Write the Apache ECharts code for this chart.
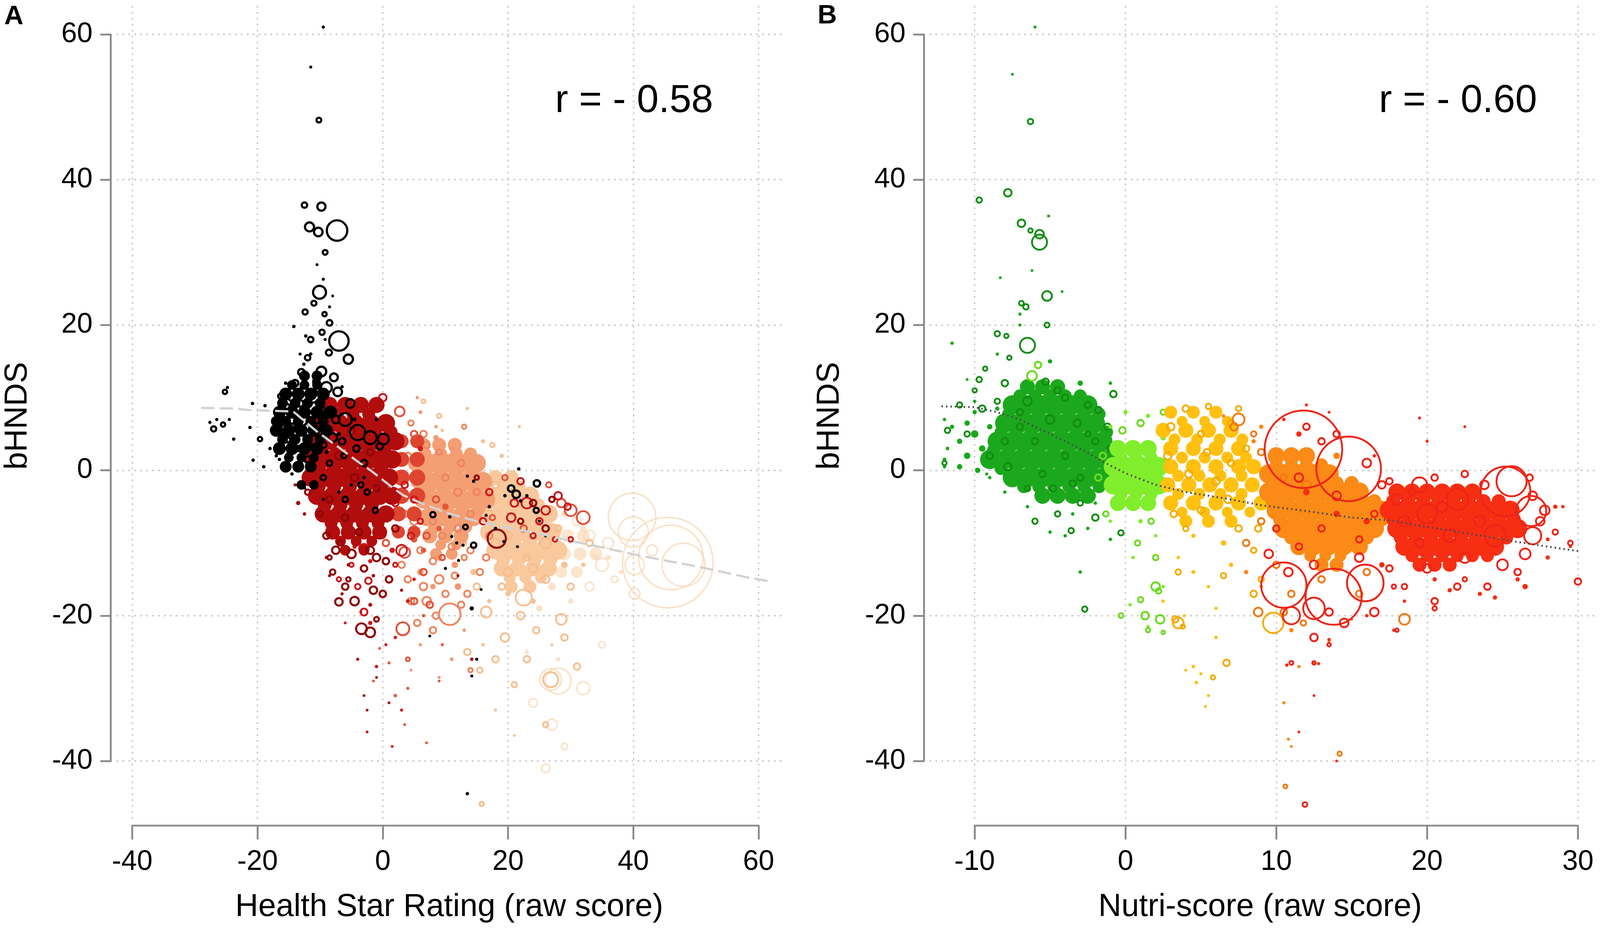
<!DOCTYPE html>
<html><head><meta charset="utf-8">
<script src="https://cdn.jsdelivr.net/npm/echarts@6/dist/echarts.min.js"></script>
<style>html,body{margin:0;padding:0;background:#fff;overflow:hidden}#c{width:100vw;height:100vh}</style>
</head><body><div id="c"></div>
<script>
// ================= DATA =================
const xTicksA = [-40, -20, 0, 20, 40, 60];
const xTicksB = [-10, 0, 10, 20, 30];
const yTicks = [-40, -20, 0, 20, 40, 60];
const xTitleA = 'Health Star Rating (raw score)';
const xTitleB = 'Nutri-score (raw score)';
const yTitle = 'bHNDS';
const rTextA = 'r = - 0.58';
const rTextB = 'r = - 0.60';

// ---- Panel A: individual points [x, y, bubble weight] ----
const aBlackRing = [[-10.2,48.2,2.2],[-12.5,36.5,2.5],[-9.8,36.3,3.8],[-11.7,33.5,4.2],[-10.3,32.8,4],[-7.3,33,9.5],[-9.2,30,2.2],
[-10.1,24.5,6],[-11,23,2.3],[-12.4,21.8,2.4],[-9.3,21.5,2],[-8.5,20.3,2.6],[-9.7,19,2.4],[-7,17.8,9],[-5.5,15.3,4.3],[-8.6,16.2,2.8],
[-9.8,13.6,4.5],[-10.6,12.2,3],[-7.8,12.8,3.6],[-11.2,10.2,6],[-9,11.4,5],[-7.2,10.8,4],[-13.2,9.2,3],[-14.6,10,2.8],[-15.3,8.8,2.4],
[-16.3,10.2,2.4],[-13.6,7,3],[-12,6,3.2],[-10,7.5,3],[-8.3,8,5],[-6,7,6],[-4,5.2,7],[-2,4.5,6],[0.1,4.3,5],[-0.5,3.3,3],[-4.2,3,3],
[-6.2,2,2.4],[-13.5,3,2.4],[-15.2,4.2,2.4],[-11,3.2,3],[-8,4.5,4],[-5.2,9.2,4],[-3,1,3],[-9.5,-1,2.5],[-2.5,-3,2.5],[-1.2,-5.5,2.5],
[-14,12,3],[-12.5,8,3.5],[-10.5,6,3.5],[-14.5,6,3],[-16,8,2.5],[-12,1.5,3],[-9.5,3.5,3],[-7.5,7,3.5],[-10,9,3.5],[-13,13.5,3],
[-11.5,18,2.5],[-15,2,2.5],[-6.5,4,3],[-8.5,1,2.5],[-12,15.5,2.5],[-16.5,6,2.2],[-3.5,-2,2.5],[-6,-4,2.5],
[-27,5.7,2.4],[-25.5,6.3,2],[-25.2,10.8,2],[-19.6,4.3,2],
[20.5,-2.5,3],[24.6,-1.8,3],[24.5,-5.5,2.4],[8,-6.1,2.5],[13.2,-7.8,2.2],[14.5,-10.3,2.5],[21.3,-3.3,3.5]];
const aBlackDot = [[-9.5,61,1.5],[-11.5,55.5,1.4],[-9.5,26.3,1.4],[-10.5,28.3,1.3],[-8.5,22.5,1.4],[-12.3,18.5,1.6],[-14.2,19.8,1.6],
[-11.5,16,1.6],[-12.6,14.6,1.6],[-13.2,16,1.4],[-9.2,18,1.4],[-8,24,1.3],[-16,5,1.7],[-17.5,7,1.7],[-26.5,7,1.5],[-27.6,6.6,1.5],
[-24.5,7,1.5],[-24.8,11.4,1.5],[-23.8,4.3,1.6],[-20.8,9.2,1.6],[-21.2,5.9,1.6],[-18.8,8.9,1.6],[-20.7,1.4,1.6],[-18,3,1.6],[-17,2,1.6],
[-16,0.5,1.6],[-14.5,-0.5,1.6],[-12.5,-2.4,1.6],[-16.5,1.5,1.6],[-19,0.5,1.6],[-15,2.5,1.6],[-13,1,1.7],[-11.5,0,1.7],[-14,5.5,1.7],
[-12.5,4,1.7],[-10.5,5,1.9],[-9,2.5,1.9],[-7,5,1.9],[-11,8,1.9],[-13,11.5,1.7],[-15.5,12,1.6],[-6.5,11.5,1.6],[-4.5,7,1.9],[-1,7,1.7],
[-3,-1,1.6],[-5,-2,1.6],[-7,-3,1.6],[-9.5,-4,1.5],
[21.7,0.2,1.6],[23,-3.5,1.6],[22,-4.2,1.6],[14.5,-1.5,1.6],[13.5,-0.8,1.5],[10.7,-6.4,1.6],[11,-9.1,1.5],[11.8,-10,1.5],[12.8,-10.3,1.5],
[10,-13.5,1.5],[12.1,-12.4,1.5],[14.2,-19,2],[15.7,-16.4,1.3],[7.5,-22.8,1.3],[13.5,-44.5,1.6],[26,-9,1.5],[25,-7,1.5],[17,-5,1.6],
[19.5,-3.5,1.6],[18,-8,1.6],[21.5,-10.5,1.4],[15,-26,1.4],[14.2,-28.3,1.4],[16.5,-6.2,1.4],[19.3,-9.8,1.4]];
// dense clusters, rows: [y, weight, x list]
const aBlackCoreRows = [[13,5,[-12.5,-10.5]],[11.75,4.5,[-14.5,-12.5,-10.5]],[10.5,6,[-15.5,-13.5,-11.5,-9.5]],[9.25,5,[-16,-14,-12,-10]],
[8,6,[-16.5,-14.5,-12.5,-10.5,-8.5]],[6.75,5,[-17,-15.5,-13.5,-11.5,-9.5]],[5.5,6,[-17,-15,-13,-11,-9]],[4.25,5,[-16,-14,-12,-10]],
[3,6,[-16.5,-14.5,-12.5,-10.5]],[1.75,4.5,[-15,-13,-11]],[0.5,5.5,[-15.5,-13.5,-11.5]],[-2,4.5,[-13,-11]]];
const aDarkRedCoreRows = [[9,7.5,[-8.5,-6,-3.5,-1]],[7.75,6,[-7.25,-4.75,-2.25]],[6.5,8.5,[-9.5,-7,-4.5,-2,0.5]],[5.25,6.5,[-8.75,-6.25,-3.75,-1.25,1.25]],
[4,8.5,[-10.5,-8,-5.5,-3,-0.5,2]],[2.75,6.5,[-9.75,-7.25,-4.75,-2.25,0.25]],[1.5,8.5,[-11,-8.5,-6,-3.5,-1,1.5]],[0.25,6.5,[-10.25,-7.75,-5.25,-2.75,-0.25]],
[-1,8.5,[-11.5,-9,-6.5,-4,-1.5,1]],[-2.25,6.5,[-10.25,-7.75,-5.25,-2.75,-0.25]],[-3.5,8.5,[-10.5,-8,-5.5,-3,-0.5,1.5]],[-4.75,6.5,[-9.25,-6.75,-4.25,-1.75]],
[-6,8,[-9.5,-7,-4.5,-2,0.5]],[-7.25,6,[-8.25,-5.75,-3.25,-0.75]],[-8.5,7,[-8,-5.5,-3,-0.5]],[-9.75,5,[-6.75,-4.25,-1.75]],[-11,5,[-6,-3]]];
const aDarkRedFill = [[-13.5,-4.5,2],[-12.5,-6,1.6],[-9,-12,1.6],[-5.5,-13,1.6],[-1.5,-14.5,1.6],[-4,-26,1.4],[-3,-31,1.3],[-2.5,-33,1.3],
[-1,-28.5,1.3],[1,-32,1.3],[14.2,-26,1.6],[12,-14.5,1.4],[-14,-2,1.5],[-6.5,-17,1.5],[-2,-18.5,1.8],[3,-16.5,1.5],[-8.5,-14.5,1.4]];
const aDarkRedRing = [[-7,-18.1,3.5],[-3.4,-21.8,5],[-2,-22.3,4.5],[18.2,-9.4,8.5],[-6.8,-10,2.5],[-5.5,-15,2],[-1,-20.5,2.2],[0,-17,3],
[-3.8,-8.5,3],[-10,-6,2.5],[-8.5,-12,2],[-12,-3,2.5],[-1,-12,3.5],[2,-8,3],[15,-1,2],[22,-7,2.5],[27,-4,2.5],[26,-8,3],[24,-4.5,3],
[-9,-9,3],[-7.5,-11,3.5],[-5,-11.5,4],[-2,-11,3.5],[0.5,-12.5,3],[-8,-14,2.5],[-6,-16,3],[-4.5,-18,4],[-1.5,-16.5,3.5],[1,-15,3],[-3,-13.5,3],
[-7,2,3.5],[-4.5,-1,3.5],[-2,2.5,3],[-8.5,-4,3],[-5,5.5,3],[-1,-2.5,3],[-6,-6.5,3]];
const aRedOrangeCoreRows = [[4,6.5,[3,5.5]],[1.5,7,[3,5.5]],[-1,7.5,[3,5.5]],[-3.5,7.5,[3,5.5]],[-6,7,[2.5,5]],[-8.5,6,[2.5,5]]];
const aRedFill = [[-1,-27,1.6],[-2,-21,2],[-3.5,-19.5,1.4],[-6,-21,1.3],[2,-23,1.6],[1.5,-38,1.3],[3,-33,1.4],[-2.5,-36,1.3],[0.5,-24,1.4],
[5,-15,1.6],[4,-18,1.8],[-2,-12.5,2],[-4.5,-10.5,2],[0,-9,3],[1.5,-11,2.5],[6,3,2.5],[3,4,2.5]];
const aRedRing = [[0,10,3.5],[-3,-10.8,4.5],[-2.3,-15.2,3],[-5,-13,2],[-7,-15,2],[2,-13,2],[-4,-16,2.5],[-3,-19.5,3.2],[3,-11,5],[4.5,-9,3],
[1,-6,3],[5,-4,3],[6,-7,2.5],[-8,-8,2.5],[-9,-5,2.5],[20.5,-6.5,4],[23,-4.5,5],[26,-5.5,4],[28,-3.5,3.5],[29.5,-5,3],[25,-7,3],[22,-1.5,3],
[24,-9,2.5],[27.5,-9.5,2.2],[21,-4.5,3.5],[30,-9.5,2.2],[17,-3,3],[16,-7,3],[1.5,1,3],[3.5,-2,3],[2,-4.5,3]];
const aOrangeFill = [[9,-8,2.5],[5,-9.5,3],[6.5,-11,2.5],[10,-5,3],
[2,-31,1.6],[4,-30,1.4],[1,-26.5,1.4],[6.5,-20,1.6],[9,-29,1.3],[9.5,-24,1.4],[-0.5,-24.5,1.3],[3.5,-35,1.3],[7,-37.5,1.3],[-1.5,-29,1.3]];
const aOrangeRing = [[2.7,8.1,4.5],[0.5,-10,3],[3.2,-21.8,6],[3.5,-11.3,5],[7,-9,3],[8.5,-4,3],[6.5,-14,3],[5,-18,3],[7.5,-18.5,3],[9.5,-12,2.5],
[1,6,3],[5,5,3],[4,-26,1.8],[17.5,-6.5,2.5],[19.5,-1,2.5],[30,-5.5,5.5],[32,-6.5,6],[28.5,-4.5,4],[22.5,-8,3],[26.5,-2,2.5]];
const aSalmonCoreRows = [[3.5,6.5,[6.5,9,11.5]],[2.25,6,[6.75,9.25,11.75,14]],[1,8.5,[5.5,8,10.5,13,15]],[-0.25,6.5,[6.75,9.25,11.75,14.25]],
[-1.5,8.5,[6,8.5,11,13.5,16]],[-2.75,6.5,[7.25,9.75,12.25,14.75]],[-4,8.5,[6.5,9,11.5,14,16.5]],[-5.25,6.5,[7.75,10.25,12.75,15.25]],
[-6.5,8,[7,9.5,12,14.5]],[-7.75,6,[8.25,10.75,13.25]],[-9,7,[7.5,10,12.5]],[-10.25,5,[9.25,11.75]],[-11.5,5.5,[8.5,11]]];
const aSalmonFill = [[9,-12,3],[11.5,-13,3],[6,-14,3],[8,-16,2.5],[12,-16,3],[5.5,4,3],[8.5,4.5,2.5],[11,3,2.5],[6,8,1.8],[8.5,6,1.6],
[5.5,10,1.5],[11,-26,1.7],[9,-28.5,1.4],[13,-22,1.6],[6,-24,1.5],[4.5,-27.5,1.3]];
const aSalmonRing = [[10.7,-19.8,10],[5.5,-21,3],[7,-18,4],[4,-15,3],[9,-15,4],[11,-10.5,3],[13,-12,2.5],[6,-11,3],[8,-7,3],[14,-6,3],[12.5,1,3],
[10,-17,3],[8.5,-20,3],[6.5,5,3],[9,2.5,2.5],[4.5,6.5,2.5],[13,6,2],[14,-27.5,2],[16.5,-12,3],[3.5,-6,3],[13.5,-17,3],
[4,2,3],[7,3.5,3],[10,-1,3],[12,-3,3.5],[5,-7,3.5],[9.5,-9,3],[12,-8,3],[15,-3,3],[3,-13,3],[6.5,-16,3.5],[8,-12.5,3],[11.5,-14.5,3],
[4.5,-18,3],[8,-22,3],[12.5,-18.5,3],[14,-11,3],[17,-9,3],[15.5,-14,3]];
const aPeachCoreRows = [[-1,7,[15.5,18,20.5]],[-2.25,6,[16.75,19.25,21.75]],[-3.5,8.5,[16,18.5,21,23.5]],[-4.75,6.5,[17.25,19.75,22.25,24.75]],
[-6,8.5,[16.5,19,21.5,24,26.5]],[-7.25,6.5,[17.75,20.25,22.75,25.25]],[-8.5,8.5,[17,19.5,22,24.5,27]],[-9.75,6.5,[18.5,21,23.5,26]],
[-11,8.5,[18,20.5,23,25.5,28]],[-12.25,6.5,[19.25,21.75,24.25,26.75]],[-13.5,7.5,[19,21.5,24,26.5]],[-14.75,5.5,[20.25,22.75,25.25]],[-16,6,[20.5,23.5]]];
const aPeachFill = [[14,-1,3.5],[13,-10,3],[20,-17,2.5],[24,-18,2.5],[29,-13,3],[17,-18,2],[14.5,-14,3],[12,-4,3],[16,4,2],[19,2,2],[21.8,6,1.4],
[13.5,8.5,1.6],[9.5,5.5,1.6],[16,-24,1.6],[18,-33,1.4],[21,-36.5,1.3],[27,-24,1.4],[32,-13,2]];
const aPeachRing = [[26.8,-28.8,7],[22.5,-17.5,7.5],[28.5,-20.5,5],[19.5,-23,4],[16.5,-19.5,5],[20,-14,4],[15,-16,3],[26,-10,5],[24,-13.5,4],[30,-16,3],
[24.5,-22,3],[13.5,-25,3],[15.5,-27.5,2.5],[21,-29.5,2.5],[26,-35,2.5],[18,-10,4],[14,2.5,2],[9,7.5,2],[6.5,9.5,1.8],[17.5,3.5,2],[33,-10,3],[15.8,-45.9,2],
[18,-2,3],[22,-4,3.5],[25,-6,3],[28,-8,3],[17,-6,3.5],[20,-9,3.5],[23,-12,3],[26,-15,3.5],[19,-16,3],[22,-20,3.5],[18,-26,3],[23,-26,3],[29,-23,3],[31,-27,3]];
const aPaleCoreRows = [[-9,6,[29.5,32]],[-11.5,6,[29,31.5,34]],[-14,5.5,[28.5,31]]];
const aPaleFill = [[34,-12,3],[27,-16,3.5],[32,-8,3],[36,-12,2.5],[25,-19,3],[29,-6,3],[38,-14,2],[30,-18,2.5],[23,-25,2],[28,-26,2]];
const aPaleRing = [[39.8,-6.4,22],[40,-8.5,14],[40.2,-13,9],[40.2,-17,5],[45.5,-12.7,42],[46,-12,30],[48,-13,20],[35,-13,6],[36,-10,5],[31,-7,4],
[33,-9,5],[26.8,-28.8,10],[28,-29,12],[32,-30,6],[26,-41,4],[29,-38,3],[24,-32,4],[33,-16,4],[43,-11,5],[37,-15,3],[27,-35,5],[35,-24,3]];
const aTrend = [[-29,8.6],[-23.5,8.5],[-21.5,8.3],[-18,8.2],[-14.3,8.1],[-10.6,5.4],[-7.1,3.2],[-4,1.2],[-1.8,-0.1],[1,-2],[3.2,-3.4],[6.1,-4.5],
[10,-5.8],[15,-7],[20,-7.9],[25.4,-8.8],[30,-9.7],[35,-10.6],[40.3,-11.6],[45,-12.4],[50,-13.2],[53.8,-13.9],[58,-14.7],[62,-15.3]];

// ---- Panel B ----
const bGreenCoreRows = [[11.5,7,[-6.5,-5.5,-4.5]],[10.25,6,[-7,-6,-5,-4,-3]],[9,9,[-7.5,-6.5,-5.5,-4.5,-3.5,-2.5]],
[7.75,6,[-7.75,-6.75,-5.75,-4.75,-3.75,-2.75,-1.75]],[6.5,9,[-8,-7,-6,-5,-4,-3,-2]],[5.25,6,[-8.25,-7.25,-6.25,-5.25,-4.25,-3.25,-2.25,-1.25]],
[4,9,[-8.5,-7.5,-6.5,-5.5,-4.5,-3.5,-2.5,-1.5]],[2.75,6,[-8.75,-7.75,-6.75,-5.75,-4.75,-3.75,-2.75,-1.75,-0.75]],
[1.5,9,[-9,-8,-7,-6,-5,-4,-3,-2,-1]],[0.25,6,[-8.25,-7.25,-6.25,-5.25,-4.25,-3.25,-2.25,-1.25]],
[-1,9,[-7.5,-6.5,-5.5,-4.5,-3.5,-2.5,-1.5]],[-2.25,6,[-6.75,-5.75,-4.75,-3.75,-2.75,-1.75]],[-3.5,7.5,[-5.5,-4.5,-3.5,-2.5]]];
const bGreenFill = [[-10,5,3.5],[-9.5,3,3],[-10.5,2,3],[-11,4,2.5],[-9,6,2.5],[-10,8,2],[-8.5,8.5,2],[-11.5,6,2],[-12,1.5,1.7],[-11.8,3,1.7],
[-3,12,2.5],[-5,15,2],[-11.5,17.5,1.6],[-10,9.5,1.6],[-12,7,1.6],[-9,-1,1.6],[-8,-3,1.6],[-6.5,-5,1.6],[-4.8,-3.5,1.6],[-3.5,-6,1.6],
[-2.5,-8,1.6],[-1,-9.5,1.6],[-4,-9,1.6],[-3,-14,1.6],[-5,-8.5,1.6],[-7.5,54.5,1.3],[-6,61,1.4],[-8.3,26.5,1.3],[-5.1,35,1.4],[-7,21.5,1.5],
[-8.5,16,1.5],[-7,20,1.4],[-4.2,24.6,1.3],[-10.5,12.5,1.3],[-6.2,27.5,1.3],[-9.2,-0.5,1.4],[-12,0.5,1.6],[-2,-4.5,1.6],[-1,12,1.6],
[-11,0.5,2.5],[-10.5,6.5,2.5],[-9.8,0,2.5]];
const bGreenRing = [[-6.3,48,2.5],[-9.7,37.2,2.5],[-7.8,38.2,3.5],[-6.9,34,3.5],[-6.3,33,2],[-5.7,31.4,7],[-5.7,32.5,4],[-5.2,24,4.5],[-5.2,20,2.3],
[-6.6,22.5,2.5],[-6.9,23,2.2],[-6.5,17.2,7],[-8.5,18.8,2.5],[-7.9,18.5,2],[-7.7,15.5,2],[-9.7,12.5,2.5],[-9.3,14,2],[-5.3,12.2,3],[-6.5,9.5,4],
[-4,10,3],[-2.5,9,3],[-1.8,8.3,3],[-3.2,6.5,3.5],[-8,4,3],[-10.5,5,2.5],[-11.8,5.5,2.5],[-12,1,2],[-7.8,0.5,3.5],[-4.8,-2.5,3],[-3,-4.5,2.5],
[-3.6,-8.3,2.5],[-0.3,-8.6,2.5],[-2.7,-19.1,2.5],[-1,3,3],[-2,4,3],[-5,7,4],[-7,6,3],[-8.5,9.5,2.5],[-10,11,2],[-6.5,-2.5,2.5],[-3.5,-1.8,3],[-0.8,10.5,3],
[-9.5,8.5,3],[-11,9,2.5],[-8,12,3],[-2,-6.5,3],[-4.5,-6,2.5],[-6,-7,2.5],[-1.2,6,3],[-0.5,-3,3],[-9,2,3],
[-6,4,3],[-4,2,3],[-7,8,3],[-3,-1,3],[-5.5,-0.5,3],[-2.5,5,2.5],[-4.5,11,3]];
const bLimeCoreRows = [[3,8,[-0.5,0.5,1.5]],[1.75,6,[-0.3,0.7,1.7]],[0.5,9,[-0.8,0.2,1.2,2.2]],[-0.75,6.5,[-0.3,0.7,1.7]],
[-2,9,[-0.8,0.2,1.2,2.2]],[-3.25,6,[-0.3,0.7,1.7]],[-4.5,7.5,[-0.5,0.5,1.5]]];
const bLimeFill = [[2.5,4.5,2.5],[-1,6,2],[0,8,2],[1.5,7.5,2],[1,-7,2],[2,-9,1.6],[0.5,-12,1.6],[-1,-7,1.6],[1.5,-21.5,1.6],[0.3,-18.5,1.6],[2.5,-16,1.6]];
const bLimeRing = [[-6.2,13,4.5],[-5.8,14.5,3],[2,-16,4],[2.2,-16.6,2.5],[1.3,-20,3.5],[2.3,-20.5,4],[-0.3,-20,2.2],[1,-17.8,2.5],[1.5,-22,2],
[2.5,-22.3,1.6],[0.8,-10,2.5],[2,-12,2.5],[-0.2,5.5,3],[1,6.5,3],[2.5,8,2.5],[1.7,-7,2.5],[-1.3,-6,2.5],[-1.5,2,3],[-1.8,-1,3]];
const bYellowCoreRows = [[8,6,[3,4.5,6]],[6.75,5,[3.75,5.25,6.75]],[5.5,7,[2.5,4,5.5,7]],[4.25,5.5,[3.25,4.75,6.25,7.75]],[3,7,[3,4.5,6,7.5]],
[1.75,5.5,[3.75,5.25,6.75,8]],[0.5,7,[3,4.5,6,7.5,8.5]],[-0.75,5.5,[3.5,4.9,6.3,7.7]],[-2,7,[2.8,4.2,5.6,7,8.4]],[-3.25,5.5,[3.5,4.9,6.3,7.7]],
[-4.5,7,[3,4.5,6,7.5,9]],[-5.75,5,[3.75,5.25,6.75,8.25]],[-7,6,[4,5.5,7]]];
const bYellowFill = [[9.5,-5,2.5],[4.5,-9,2],[6.5,-10,2.5],[7,-13,2],[3.5,-12,1.6],[4.5,-14,1.8],[5.5,-16,1.6],
[4.5,-27,1.6],[5,-28,1.4],[4.7,-29.2,1.6],[5.5,-31,1.4],[5.3,-32.5,1.3],[4,-27.5,1.3],[6,-19,1.5],[6,-23,1.6],[3.9,-20,1.4],[2.5,-18,1.6]];
const bYellowRing = [[3.5,-21,5],[3.3,-20.5,3],[3.8,-21.5,2],[6.7,-26.5,3],[5.8,-28.5,2],[9.8,-21,9.5],[8.5,-17,3],[5,5,3],[7,6.5,3],[3,6,3.5],
[4,8.5,3],[7,1,3],[6,-1.5,3.5],[4,-8,2.5],[7.5,-8,3],[8.5,-11,2.5],[3.5,-14,2.5],[6.5,-14.5,2.5],[9,-15,2.5],
[2.8,2,3.5],[4.2,-0.5,3.5],[5.4,2.5,3],[6.8,-4,3.5],[8,3,3],[5,-5.5,3],[3.2,-6,3],[8.8,-8,3],[5.5,8.8,2.5],[7.5,8.5,2.5]];
const bOrangeCoreRows = [[2,8,[10,11,12]],[0.75,6,[10,11,12,13]],[-0.5,9,[9.5,10.5,11.5,12.5,13.5]],[-1.75,6.5,[10,11,12,13,14,15]],
[-3,9,[9.5,10.5,11.5,12.5,13.5,14.5,15.5]],[-4.25,6.5,[9.75,10.75,11.75,12.75,13.75,14.75,15.75,16.5]],
[-5.5,9,[10,11,12,13,14,15,16,17]],[-6.75,6.5,[10.25,11.25,12.25,13.25,14.25,15.25,16.25,17]],
[-8,9,[10.5,11.5,12.5,13.5,14.5,15.5,16.5]],[-9.25,6.5,[11,12,13,14,15,16]],[-10.5,8,[11.5,12.5,13.5,14.5,15.5]],
[-11.75,5.5,[12.25,13.25,14.25]],[-13,6.5,[13,14]]];
const bOrangeFill = [[14,2,3],[8.5,4,2],[9,6,2],[8,-14,2],[11,-22,2],[11.5,-27,1.6],[10.5,-32,1.5],[10.8,-37,1.4],[11,-38,1.3],[12.5,-26.5,1.3],
[13.5,-23.5,1.4],[15,-20.5,1.4],[6.5,7.5,1.6],[9,-16,1.6]];
const bOrangeRing = [[7.5,7,5.5],[7.2,6,3.5],[8.5,5,2.5],[9,2.5,3],[8.8,-19.5,4],[10,-13,3],[11,-17,3],[8,-10,3],[9,-7,3],[10.5,-19.5,3],
[11.8,-21,2.5],[18.5,-20.5,5],[10.6,-43.5,1.8],[14.2,-39,2],[16,-14,3],[13,-15,3],[15.5,-17,3],[12,-2,4],[10.5,-1,3]];
const bRedCoreRows = [[-3,8,[18,19,20,21,22,23]],[-4.25,6.5,[17.75,18.75,19.75,20.75,21.75,22.75,23.75,24.75]],
[-5.5,9,[17.5,18.5,19.5,20.5,21.5,22.5,23.5,24.5,25.5]],[-6.75,6.5,[17.75,18.75,19.75,20.75,21.75,22.75,23.75,24.75,25.75]],
[-8,9,[18,19,20,21,22,23,24,25,26]],[-9.25,6.5,[18.25,19.25,20.25,21.25,22.25,23.25,24.25,25.25]],
[-10.5,8.5,[18.5,19.5,20.5,21.5,22.5,23.5,24.5]],[-11.75,6,[19,20,21,22,23,24]],[-13,6.5,[19.5,20.5,21.5]]];
const bRedFill = [[12,-3,3],[14,-6,3],[16,-7,3],[17,-13,2.5],[26,-15,2],[23.5,-17,2],[28,-12,2],[28.5,-5,2],[11.5,5,2.5],[10.5,7,1.6],[12,9,1.4],
[19.5,7.2,1.4],[22.5,6,1.3],[20,4,1.4],[16.5,2,1.6],[13.5,8,1.3],[12.5,-31,1.3],[11.5,-36,1.3],[14,-40,1.3],[29,-5,1.6],[28,-9.5,1.8],
[29.5,-10.5,1.4],[26.5,-16,2.5],[24.5,-17.5,2],[10.7,-26.8,1.6],[12.8,-26.6,1.5],[20.5,-15,2],[21.5,-16.5,2],[13.5,-23.3,1.6],[17.8,-22,1.6],
[16,-20,1.6],[18.5,-18,1.6]];
const bRedRing = [[11.8,2.9,36],[14.8,0.2,30],[13.8,-17.4,26],[10.5,-15.8,21],[15.9,-15.5,17],[11,-20,8],[12.5,-19,10],[25.2,-2.9,23],[25.6,-1.5,14],
[26.9,-5.6,14],[24.5,-9,10],[27,-9,8],[22,-4,10],[20,-6,9],[19.5,-2,7],[30,-15.3,3],[11.9,-46,2.2],
[12,6,3],[13,4,3],[14,5,3],[11.5,-1,4],[14,-3.5,4],[16,1,4],[17,-2,3.5],[18,-4,5],[18.5,-7,5],[19.5,-10,4],[20,-13.5,4],[21,-5,5],[21.5,-9,6],
[22.5,-12,5],[23.5,-7,5],[23.8,-2,4],[22.5,-0.5,3],[25,-13,5],[26.5,-11.5,5],[27.5,-7,4],[27.8,-5.5,4.5],[27,-3.5,4],[26.8,-1,3],[26,-14,3],
[24,-16,3],[22,-16,3],[20.5,-18,3],[17.5,-13.5,3],[18.5,-16,2.5],[16.5,-19.5,4],[14.5,-21,4],[12.5,-23,3.5],[10.8,-14,4],[9.5,-11.5,4],
[10,-8,3],[13,-8,3],[15.5,-9.5,3],[16.5,-6,3],[19,-3,3],[20.5,-1,3],[28.5,-8.5,2.5],[29.5,-10,2.2],[17.5,-1.5,3],[15.5,-12,4],[12.5,-13,4],
[11.5,-10.5,3],[13.5,-19.5,3.5],[18,-22,1.6],[20.5,-19,2],[22.5,-15,2],[11,-26.5,1.8],[12.5,-26.5,1.6],[13.5,-24,1.6],[17.8,-16,2]];
const bTrend = [[-12.2,8.8],[-10,8.7],[-8.5,8],[-7,7],[-5,5],[-3,3],[-1.5,1.2],[0,-0.4],[2,-2],[4,-3],[6.7,-3.9],[9,-4.8],[12,-5.6],[15,-6.5],
[17.6,-6.9],[20,-7.8],[22.5,-8.6],[25.5,-9.7],[28,-10.5],[30,-11.1]];

// flatten row-based clusters into [x, y, weight]
function rows(list){ const out=[]; list.forEach(function(r){ r[2].forEach(function(x){ out.push([x, r[0], r[1]]); }); }); return out; }

// ================= LAYOUT (designed on a 4562 x 2387 canvas) =================
const W = window.innerWidth, H = window.innerHeight;
const SX = W/4562, SY = H/2387, SS = Math.sqrt(SX*SY);
function sx(v){ return v*SX; } function sy(v){ return v*SY; } function ss(v){ return v*SS; }
const FF = "'Liberation Sans', Arial, Helvetica, sans-serif";
const K = 5.82; // bubble weight -> diameter
const AX = '#8a8a8a', GRIDC = '#cdcdcd';
const panels = [
  {x0:-40,x1:60,px0:377,px1:2163, plotL:332,plotR:2236, yAxOff:61, ticks:xTicksA, step:20},
  {x0:-10,x1:30,px0:2779,px1:4499, plotL:2650,plotR:4556, yAxOff:145, ticks:xTicksB, step:10}
];
const Y0=-40,Y1=60,PY0=1949,PY1=88, plotT=13, plotB=2097, xAxOff=165;
const pxPerY = (PY0-PY1)/(Y1-Y0);
const yhi = Y1 + (PY1-plotT)/pxPerY, ylo = Y0 - (plotB-PY0)/pxPerY;

const grid=[], xAxis=[], yAxis=[];
panels.forEach(function(p,i){
  const pxPerX=(p.px1-p.px0)/(p.x1-p.x0);
  const xlo=p.x0+(p.plotL-p.px0)/pxPerX, xhi=p.x0+(p.plotR-p.px0)/pxPerX;
  grid.push({left:sx(p.px0), width:sx(p.px1-p.px0), top:sy(PY1), height:sy(PY0-PY1), containLabel:false, outerBoundsMode:'none'});
  xAxis.push({type:'value', gridIndex:2*i, min:p.x0, max:p.x1, interval:p.step, offset:sy(xAxOff),
    axisLine:{show:true,onZero:false,lineStyle:{color:AX,width:ss(5)}}, axisTick:{show:true,length:sy(36),lineStyle:{color:AX,width:ss(5)}},
    axisLabel:{fontSize:ss(76),fontFamily:FF,color:'#000',margin:sy(58),showMinLabel:true,showMaxLabel:true}, splitLine:{show:false}});
  yAxis.push({type:'value', gridIndex:2*i, min:Y0, max:Y1, interval:20, offset:sx(p.yAxOff),
    axisLine:{show:true,onZero:false,lineStyle:{color:AX,width:ss(5)}}, axisTick:{show:true,length:sx(30),lineStyle:{color:AX,width:ss(5)}},
    axisLabel:{fontSize:ss(76),fontFamily:FF,color:'#000',margin:sx(52),showMinLabel:true,showMaxLabel:true}, splitLine:{show:false}});
  grid.push({left:sx(p.plotL), width:sx(p.plotR-p.plotL), top:sy(plotT), height:sy(plotB-plotT), containLabel:false, outerBoundsMode:'none'});
  xAxis.push({type:'value', gridIndex:2*i+1, min:xlo, max:xhi, show:false, splitLine:{show:false}});
  yAxis.push({type:'value', gridIndex:2*i+1, min:ylo, max:yhi, show:false, splitLine:{show:false}});
});

let zc = 3;
function pts(data, color, ring, ax, opacity, bw){
  return {type:'scatter', xAxisIndex:ax, yAxisIndex:ax, data:data, symbol:'circle',
    symbolSize:function(v){return v[2]*K*SS;}, silent:true, animation:false, z:zc++, large:false,
    itemStyle: ring ? {color:'rgba(0,0,0,0)', borderColor:color, borderWidth:ss(bw||5), opacity:opacity||1}
                    : {color:color, opacity:opacity||1, borderWidth:0}};
}
function gridLines(ax, ticks){
  return {type:'scatter', xAxisIndex:ax, yAxisIndex:ax, data:[], silent:true, z:1,
    markLine:{silent:true, z:1, symbol:['none','none'], label:{show:false}, animation:false,
      lineStyle:{color:GRIDC, width:ss(4), type:[ss(5),ss(11)]}, emphasis:{disabled:true},
      data: ticks.map(function(v){return {xAxis:v};}).concat(yTicks.map(function(v){return {yAxis:v};}))}};
}
function trend(data, ax, color, width, type){
  return {type:'line', xAxisIndex:ax, yAxisIndex:ax, data:data, showSymbol:false, symbol:'none', silent:true,
    animation:false, z:80, lineStyle:{color:color,width:ss(width),type:type.map(ss)}};
}

const series = [
  gridLines(1, xTicksA), gridLines(3, xTicksB),
  // Panel A (lightest first, black on top)
  pts(rows(aPaleCoreRows),'#FBE0C6',false,1,0.85), pts(aPaleFill,'#FADDBF',false,1,0.85), pts(aPaleRing,'#F8D7B4',true,1,0.75,4),
  pts(rows(aPeachCoreRows),'#F9C89C',false,1), pts(aPeachFill,'#F8C293',false,1), pts(aPeachRing,'#F6BD8C',true,1,0.95,5),
  pts(rows(aSalmonCoreRows),'#F49E74',false,1), pts(aSalmonFill,'#F49771',false,1), pts(aSalmonRing,'#EE8660',true,1,1,5),
  pts(rows(aRedOrangeCoreRows),'#DD4530',false,1), pts(aOrangeFill,'#E6573A',false,1), pts(aOrangeRing,'#E2523A',true,1,1,5),
  pts(aRedFill,'#CF1A1A',false,1), pts(aRedRing,'#CC181C',true,1,1,5),
  pts(rows(aDarkRedCoreRows),'#B20D0D',false,1), pts(aDarkRedFill,'#A80C0C',false,1), pts(aDarkRedRing,'#900707',true,1,1,5.5),
  pts(rows(aBlackCoreRows),'#000000',false,1), pts(aBlackDot,'#000000',false,1), pts(aBlackRing,'#000000',true,1,1,6),
  trend(aTrend,1,'#d2d2d2',6,[36,14]),
  // Panel B
  pts(rows(bGreenCoreRows),'#1CA81C',false,3), pts(bGreenFill,'#1AA81A',false,3), pts(bGreenRing,'#118E11',true,3,1,5),
  pts(rows(bLimeCoreRows),'#80EE2C',false,3), pts(bLimeFill,'#7EEC2A',false,3), pts(bLimeRing,'#6CDA20',true,3,1,5),
  pts(rows(bYellowCoreRows),'#FFC010',false,3), pts(bYellowFill,'#FDBE0E',false,3), pts(bYellowRing,'#F3AC08',true,3,1,5),
  pts(rows(bOrangeCoreRows),'#FB8A16',false,3), pts(bOrangeFill,'#FB8614',false,3), pts(bOrangeRing,'#F27A14',true,3,1,5),
  pts(rows(bRedCoreRows),'#F72E12',false,3), pts(bRedFill,'#F62C12',false,3), pts(bRedRing,'#EE2418',true,3,1,5),
  trend(bTrend,3,'#4a4a4a',5,[4,8])
];

function txt(t, x, y, size, opts){
  opts = opts||{};
  return {type:'text', x:sx(x), y:sy(y), rotation:opts.rot||0, silent:true, z:100,
    style:{text:t, fontSize:ss(size), fontFamily:FF, fontWeight:opts.bold?'bold':'normal', fill:'#000',
      align:opts.align||'center', verticalAlign:'middle', textAlign:opts.align||'center', textVerticalAlign:'middle'}};
}
const graphic = {elements:[
  txt('A', 12, 43, 72, {bold:true, align:'left'}),
  txt('B', 2331, 41, 72, {bold:true, align:'left'}),
  txt(yTitle, 51, 1065, 86, {rot:Math.PI/2}),
  txt(yTitle, 2366, 1065, 86, {rot:Math.PI/2}),
  txt(xTitleA, 1281, 2324, 86),
  txt(xTitleB, 3593, 2324, 86),
  txt(rTextA, 1808, 259, 106),
  txt(rTextB, 4157, 259, 106)
]};

const chart = echarts.init(document.getElementById('c'));
chart.setOption({animation:false, backgroundColor:'#ffffff', grid:grid, xAxis:xAxis, yAxis:yAxis, series:series, graphic:graphic});
</script></body></html>
